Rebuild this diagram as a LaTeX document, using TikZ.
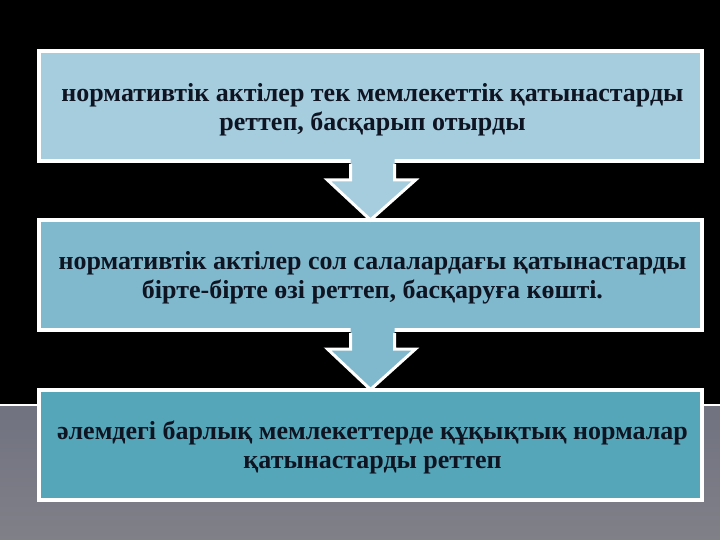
\documentclass[tikz,border=0pt]{standalone}
\usepackage{fontspec}
\setmainfont{Liberation Serif}
\usetikzlibrary{calc}
\definecolor{cA}{RGB}{166,205,222}
\definecolor{cB}{RGB}{128,185,205}
\definecolor{cC}{RGB}{86,166,185}
\definecolor{txt}{RGB}{14,20,34}
\definecolor{grayT}{RGB}{112,114,128}
\definecolor{grayB}{RGB}{128,128,136}
\tikzset{
  panel/.style={draw=white, line width=4pt, minimum width=663pt, minimum height=110pt,
    inner sep=0pt},
  paneltext/.style={inner sep=0pt, align=center, text=txt,
    font=\fontsize{26}{29}\selectfont\bfseries},
  blockarrow/.style={draw=white, line width=3pt, line join=miter}
}
\begin{document}
\begin{tikzpicture}[x=1pt,y=-1pt]
\useasboundingbox (0,0) rectangle (720,540);
\fill[black] (0,0) rectangle (720,405);
\shade[top color=grayT, bottom color=grayB] (0,405) rectangle (720,540);
\draw[white, line width=2.5pt] (0,405) -- (720,405);

\node[panel, fill=cA] (b1) at (370.5,106) {};
\node[panel, fill=cB] (b2) at (370.5,275) {};
\node[panel, fill=cC] (b3) at (370.5,444.5) {};
\node[paneltext] (t1) at ($(b1.center)+(2,4)$) {нормативтік актілер тек мемлекеттік қатынастарды\\реттеп, басқарып отырды};
\node[paneltext] (t2) at ($(b2.center)+(2,3)$) {нормативтік актілер сол салалардағы қатынастарды\\бірте-бірте өзі реттеп, басқаруға көшті.};
\node[paneltext] (t3) at ($(b3.center)+(2,3)$) {әлемдегі барлық мемлекеттерде құқықтық нормалар\\қатынастарды реттеп};

% arrow 1
\fill[cA] ($(b1.south)+(-20,-4)$) -- ($(b1.south)+(-20,17)$) -- ($(b1.south)+(-43,17)$)
  -- ($(b2.north)+(0,2)$) -- ($(b1.south)+(45,17)$) -- ($(b1.south)+(24,17)$) -- ($(b1.south)+(24,-4)$) -- cycle;
\draw[blockarrow] ($(b1.south)+(-20,1)$) -- ($(b1.south)+(-20,17)$) -- ($(b1.south)+(-43,17)$)
  -- ($(b2.north)+(0,2)$) -- ($(b1.south)+(45,17)$) -- ($(b1.south)+(24,17)$) -- ($(b1.south)+(24,1)$);
% arrow 2
\fill[cB] ($(b2.south)+(-20,-4)$) -- ($(b2.south)+(-20,17)$) -- ($(b2.south)+(-43,17)$)
  -- ($(b3.north)+(0,2)$) -- ($(b2.south)+(45,17)$) -- ($(b2.south)+(24,17)$) -- ($(b2.south)+(24,-4)$) -- cycle;
\draw[blockarrow] ($(b2.south)+(-20,1)$) -- ($(b2.south)+(-20,17)$) -- ($(b2.south)+(-43,17)$)
  -- ($(b3.north)+(0,2)$) -- ($(b2.south)+(45,17)$) -- ($(b2.south)+(24,17)$) -- ($(b2.south)+(24,1)$);
\end{tikzpicture}
\end{document}
